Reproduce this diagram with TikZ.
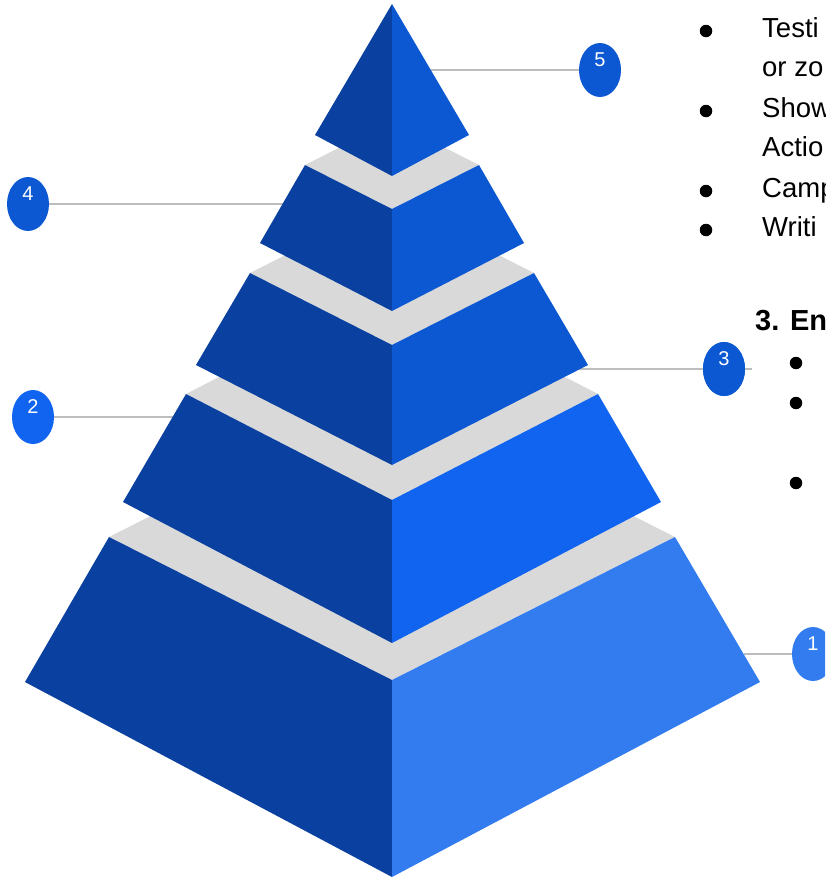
\documentclass[tikz,border=0pt]{standalone}
\usepackage{fontspec}
\setmainfont{Liberation Sans}
\usetikzlibrary{shapes.geometric}
\definecolor{dk}{HTML}{0A41A0}
\definecolor{md}{HTML}{0C58D2}
\definecolor{br}{HTML}{1064F0}
\definecolor{lt}{HTML}{327CF0}
\definecolor{gy}{HTML}{D9D9D9}
\definecolor{ln}{HTML}{BDBDBD}
\begin{document}
\begin{tikzpicture}[x=1pt,y=-1pt,
  badge/.style={ellipse, minimum width=42pt, minimum height=54pt, inner sep=0pt, fill=#1},
  lead/.style={draw=ln, line width=2pt},
  num/.style={text=white, inner sep=0pt, font=\fontsize{20}{20}\selectfont},
  txt/.style={anchor=base west, inner sep=0pt, font=\fontsize{27.5}{27.5}\selectfont},
  hd/.style={anchor=base west, inner sep=0pt, font=\fontsize{29}{29}\selectfont\bfseries},
  dot/.style={circle, fill=black, minimum size=12.5pt, inner sep=0pt}]
\useasboundingbox (0,0) rectangle (825,878);
\clip (0,0) rectangle (825,878);
\fill[white] (0,0) rectangle (825,878);

% badges
\node[badge=md] (c5) at (600,70) {};
\node[badge=md] (c4) at (28,204) {};
\node[badge=md] (c3) at (724,369) {};
\node[badge=br] (c2) at (33,417) {};
\node[badge=lt] (c1) at (813,654) {};

% leader lines (behind the pyramid)
\coordinate (e5) at (431,70);
\coordinate (e4) at (283,204);
\coordinate (e3) at (578,369);
\coordinate (e3r) at (752,369);
\coordinate (e2) at (173,417);
\coordinate (e1) at (744,654);
\draw[lead] (e5) -- (c5.west);
\draw[lead] (e4) -- (c4.east);
\draw[lead] (e2) -- (c2.east);
\draw[lead] (e1) -- (c1.west);
\draw[lead] (e3) -- (e3r);
\node[badge=md] at (c3) {};

% tier 1
\fill[gy] (109,537) -- (392,394) -- (675,537) -- (392,680) -- cycle;
\fill[dk] (109,537) -- (392,680) -- (392,877) -- (25,682) -- cycle;
\fill[lt] (675,537) -- (392,680) -- (392,877) -- (760,682) -- cycle;
% tier 2
\fill[gy] (186,394) -- (392,288) -- (598,394) -- (392,500) -- cycle;
\fill[dk] (186,394) -- (392,500) -- (392,643) -- (123,502) -- cycle;
\fill[br] (598,394) -- (392,500) -- (392,643) -- (661,502) -- cycle;
% tier 3
\fill[gy] (250,273) -- (392,201) -- (534,273) -- (392,345) -- cycle;
\fill[dk] (250,273) -- (392,345) -- (392,465) -- (196,365) -- cycle;
\fill[md] (534,273) -- (392,345) -- (392,465) -- (588,365) -- cycle;
% tier 4
\fill[gy] (305,165) -- (392,121) -- (479,165) -- (392,209) -- cycle;
\fill[dk] (305,165) -- (392,209) -- (392,311) -- (260,243) -- cycle;
\fill[md] (479,165) -- (392,209) -- (392,311) -- (524,243) -- cycle;
% tier 5
\fill[dk] (392,4) -- (315,135) -- (392,176) -- cycle;
\fill[md] (392,4) -- (469,135) -- (392,176) -- cycle;

\node[num] (n5) at (600,60) {5};
\node[num] (n4) at (28,194) {4};
\node[num] (n3) at (724,359) {3};
\node[num] (n2) at (33,407) {2};
\node[num] (n1) at (813,644) {1};

% text
\node[dot] (b1) at (706,31) {};
\node[txt] (t1) at (762,37) {Testi};
\node[txt] (t1b) at (762,76) {or zo};
\node[dot] (b2) at (706,111) {};
\node[txt] (t2) at (762,117) {Show};
\node[txt] (t2b) at (762,156) {Actio};
\node[dot] (b3) at (706,191) {};
\node[txt] (t3) at (762,197) {Camp};
\node[dot] (b4) at (706,230) {};
\node[txt] (t4) at (762,236) {Writi};

\node[hd] (h3) at (755,330) {3. En};
\node[dot] (d1) at (796,363) {};
\node[dot] (d2) at (796,403) {};
\node[dot] (d3) at (796,483) {};
\end{tikzpicture}
\end{document}
